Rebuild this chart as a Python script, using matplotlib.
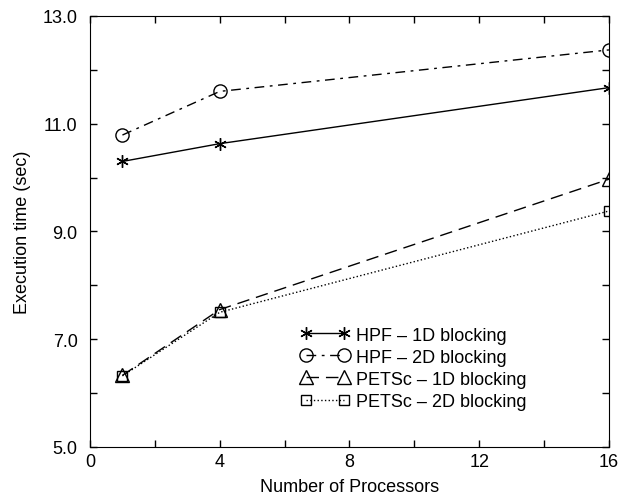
import matplotlib
matplotlib.use("Agg")
import matplotlib.pyplot as plt
from matplotlib.ticker import FixedLocator, MultipleLocator, FormatStrFormatter

# 处理器数与执行时间 (秒)
procs = [1, 4, 16]
hpf_1d = [10.30, 10.63, 11.67]
hpf_2d = [10.79, 11.60, 12.37]
petsc_1d = [6.33, 7.55, 9.97]
petsc_2d = [6.32, 7.50, 9.38]

labels = ["HPF \u2013 1D blocking", "HPF \u2013 2D blocking",
          "PETSc \u2013 1D blocking", "PETSc \u2013 2D blocking"]
y_major = [5.0, 7.0, 9.0, 11.0, 13.0]
y_minor = [6.0, 8.0, 10.0, 12.0]

plt.rcParams["font.family"] = ["Liberation Sans", "DejaVu Sans"]
plt.rcParams["font.size"] = 13

fig = plt.figure(figsize=(6.22, 5.02), dpi=100)
ax = fig.add_axes([0.1447, 0.1076, 0.8343, 0.8586])

ax.plot(procs, hpf_1d, color="black", lw=1.0, ls="-",
        marker=(6, 2, 0), ms=9, mew=1.0, label=labels[0])
ax.plot(procs, hpf_2d, color="black", lw=1.0, dashes=(7, 4, 2, 4),
        marker="o", ms=9.5, mfc="none", mew=1.0, label=labels[1])
ax.plot(procs, petsc_1d, color="black", lw=1.0, dashes=(9, 5),
        marker="^", ms=10, mfc="none", mew=1.0, label=labels[2])
ax.plot(procs, petsc_2d, color="black", lw=1.0, ls=":",
        marker="s", ms=7.5, mfc="none", mew=1.0, label=labels[3])

ax.set_xlim(0, 16)
ax.set_ylim(5.0, 13.0)
ax.xaxis.set_major_locator(MultipleLocator(4))
ax.xaxis.set_minor_locator(MultipleLocator(2))
ax.yaxis.set_major_locator(FixedLocator(y_major))
ax.yaxis.set_minor_locator(FixedLocator(y_minor))
ax.yaxis.set_major_formatter(FormatStrFormatter("%.1f"))
ax.tick_params(which="both", direction="in", top=True, right=True,
               length=5, width=1)
ax.tick_params(axis="x", pad=4)
ax.tick_params(axis="y", pad=9)

ax.set_xlabel("Number of Processors", labelpad=6)
ax.set_ylabel("Execution time (sec)", labelpad=8)

ax.legend(loc="upper left", bbox_to_anchor=(0.388, 0.30), frameon=False,
          numpoints=2, handlelength=2.7, handletextpad=0.4,
          labelspacing=0.28, fontsize=13, borderpad=0)

fig.savefig("out.png", dpi=100)
